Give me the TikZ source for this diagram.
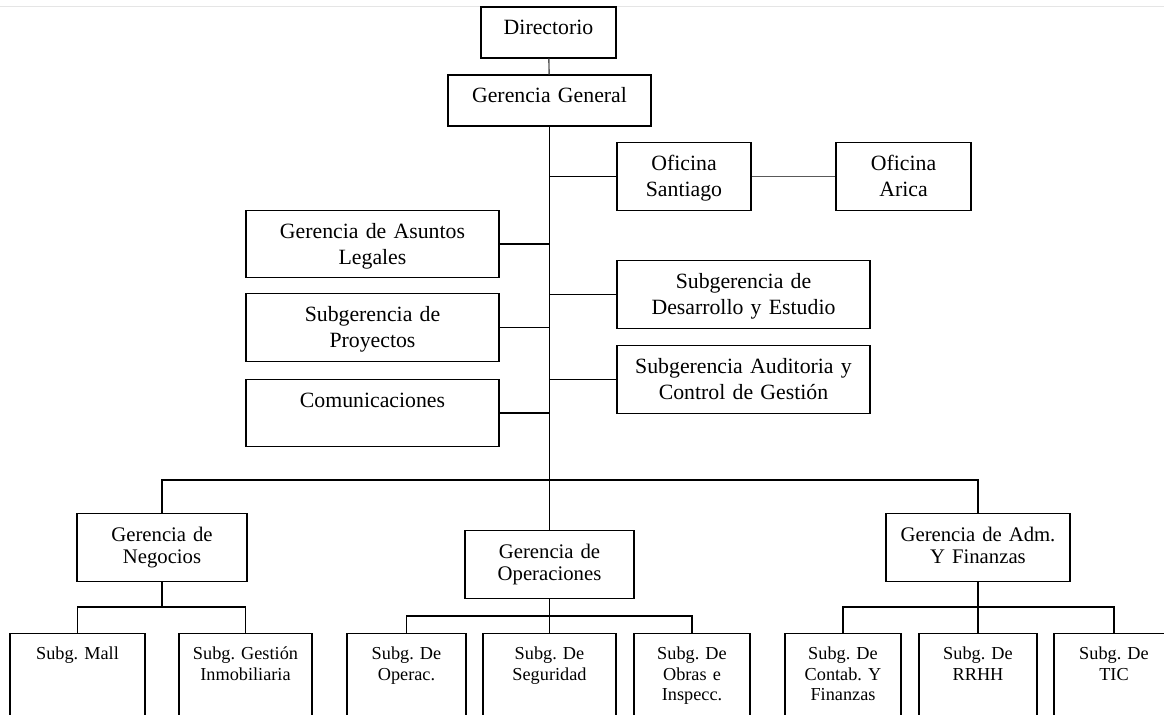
\documentclass[tikz,border=0pt]{standalone}
\usepackage{fontspec}
\setmainfont{Liberation Serif}
\usepackage{tikz}
\tikzset{
  caja/.style={draw, line width=0.8pt, align=center, inner xsep=0pt, inner ysep=0pt,
    text height=0.56cm, text width=#1},
  baja/.style={caja=#1, text depth=0.46cm},   % Cajas de 51px
  media/.style={caja=#1, text depth=0.79cm},  % Cajas de 67px
  gerencia/.style={media=#1, font=\fontsize{11.8}{12.6}\selectfont},
  alta/.style={caja=#1, text height=0.52cm, text depth=2.2cm, anchor=north,
    font=\fontsize{10.4}{11.6}\selectfont},  % Cajas cortadas abajo
  linea/.style={line width=0.8pt}
}

\begin{document}
\frenchspacing
\begin{tikzpicture}[x=0.02cm, y=-0.02cm,
font=\fontsize{12.4}{14.7}\selectfont
]
\useasboundingbox (0,0) rectangle (1164,715);
\clip (0,0) rectangle (1164,715);
\draw[black!10, line width=0.5pt] (0,6) -- (1164,6);

%Cajas
\node[baja=2.7cm]  (Dir) at (548.5,32.5) {Directorio};
\node[baja=4.06cm] (GG)  at (549.5,100.5) {Gerencia General};

\node[media=2.68cm] (OfStgo)  at (684,176.5)   {Oficina\\Santiago};
\node[media=2.7cm]  (OfArica) at (903.5,176.5) {Oficina\\Arica};

\node[media=5.06cm] (GAL) at (372.5,244)   {Gerencia de Asuntos\\Legales};
\node[media=5.06cm] (SGP) at (372.5,327.5) {Subgerencia de\\Proyectos};
\node[media=5.06cm] (Com) at (372.5,413)   {Comunicaciones};

\node[media=5.06cm] (SGDE) at (743.5,294.5) {Subgerencia de\\Desarrollo y Estudio};
\node[media=5.06cm] (SGAC) at (743.5,379.5) {Subgerencia Auditoria y\\Control de Gestión};

\node[gerencia=3.4cm]  (GN)  at (162,547.5)   {Gerencia de\\Negocios};
\node[gerencia=3.38cm] (GO)  at (549.5,564.5) {Gerencia de\\Operaciones};
\node[gerencia=3.68cm] (GAF) at (978,547.5)   {Gerencia de Adm.\\Y Finanzas};

%Subgerencias
\node[alta=2.7cm]  (SMall) at (77.5,633)  {Subg. Mall};
\node[alta=2.66cm] (SGI)   at (245.5,633) {Subg. Gestión\\Inmobiliaria};
\node[alta=2.38cm] (SOp)   at (406.5,633) {Subg. De\\Operac.};
\node[alta=2.66cm] (SSeg)  at (549.5,633) {Subg. De\\Seguridad};
\node[alta=2.32cm] (SObr)  at (692,633)   {Subg. De\\Obras e\\Inspecc.};
\node[alta=2.32cm] (SCon)  at (843,633)   {Subg. De\\Contab. Y\\Finanzas};
\node[alta=2.36cm] (SRRHH) at (978,633)   {Subg. De\\RRHH};
\node[alta=2.4cm]  (STIC)  at (1114,633)  {Subg. De\\TIC};

%Puntos de las barras
\coordinate (B)  at (549.5,480);
\coordinate (BN) at (162,607);
\coordinate (BO) at (549.5,616);
\coordinate (BA) at (978,607);

%Lineas
\draw[linea, black!65] (Dir) -- (GG);
\draw[linea] (GG) -- (B);
\draw[linea] (GN.north) |- (B) -| (GAF.north);
\draw[linea] (B) -- (GO.north);

\draw[linea] (OfStgo.west) -- (OfStgo.west -| GG.south);
\draw[linea, black!65] (OfStgo) -- (OfArica);
\draw[linea] (GAL.east) -- (GAL.east -| GG.south);
\draw[linea] (SGP.east) -- (SGP.east -| GG.south);
\draw[linea] (Com.east) -- (Com.east -| GG.south);
\draw[linea] (SGDE.west) -- (SGDE.west -| GG.south);
\draw[linea] (SGAC.west) -- (SGAC.west -| GG.south);

\draw[linea] (GN) -- (BN);
\draw[linea] (SMall.north) |- (BN) -| (SGI.north);
\draw[linea] (GO) -- (BO);
\draw[linea] (SOp.north) |- (BO) -| (SObr.north);
\draw[linea] (BO) -- (SSeg.north);
\draw[linea] (GAF) -- (BA);
\draw[linea] (SCon.north) |- (BA) -| (STIC.north);
\draw[linea] (BA) -- (SRRHH.north);

\end{tikzpicture}
\end{document}
